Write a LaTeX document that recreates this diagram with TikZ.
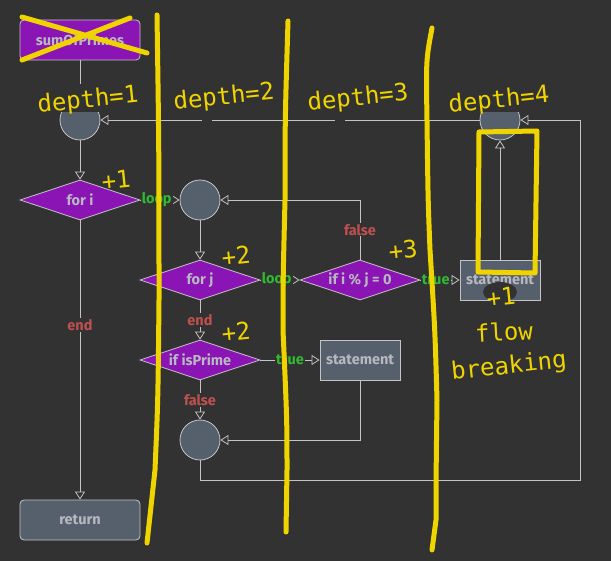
\documentclass[tikz,border=0pt]{standalone}
\usepackage{fontspec}
\setsansfont{Fira Sans}
\newfontfamily\hand{DejaVu Sans Mono}
\usetikzlibrary{shapes.geometric,arrows.meta}
\definecolor{bg}{HTML}{323232}
\definecolor{purp}{HTML}{8A14B4}
\definecolor{ngray}{HTML}{56606C}
\definecolor{edgec}{HTML}{C4C4C4}
\definecolor{txt}{HTML}{B8B8C0}
\definecolor{lgreen}{HTML}{30BA30}
\definecolor{lred}{HTML}{C05050}
\definecolor{hy}{HTML}{F0D400}
\tikzset{
  base/.style={draw=edgec, line width=0.8pt, text=txt, font=\sffamily\bfseries\fontsize{14.5}{16}\selectfont, inner sep=0pt},
  startbox/.style={base, rectangle, rounded corners=4pt, fill=purp, minimum width=120pt, minimum height=40pt},
  retbox/.style={base, rectangle, rounded corners=4pt, fill=ngray, minimum width=120pt, minimum height=40pt},
  stbox/.style={base, rectangle, fill=ngray, minimum width=80pt, minimum height=40pt},
  dia/.style={base, diamond, fill=purp, minimum width=120pt, minimum height=40pt},
  merge/.style={base, circle, fill=ngray, minimum size=40pt},
  arr/.style={draw=edgec, line width=0.8pt, -{Triangle[open, length=8pt, width=10pt]}},
  lbl/.style={fill=bg, inner sep=1pt, font=\sffamily\bfseries\fontsize{14.5}{16}\selectfont},
  lg/.style={lbl, text=lgreen},
  lr/.style={lbl, text=lred},
  hl/.style={draw=hy, line width=5pt, line cap=round, line join=round},
  htext/.style={text=hy, font=\hand\fontsize{24}{26}\selectfont, inner sep=0pt, rotate=6},
}
\begin{document}
\begin{tikzpicture}[x=1pt, y=-1pt]
\useasboundingbox[fill=bg] (0,0) rectangle (611,561);
% nodes
\node[startbox] (sum) at (80,40) {sumOfPrimes};
\node[merge] (c1) at (80,120) {};
\node[dia] (fori) at (80,200) {\makebox[0pt]{for i}};
\node[merge] (c2) at (200,200) {};
\node[dia] (forj) at (200,280) {\makebox[0pt]{for j}};
\node[dia] (ifij) at (360,280) {\makebox[0pt]{if i \% j = 0}};
\node[stbox] (st1) at (500,280) {statement};
\node[merge] (c4) at (500,120) {};
\node[dia] (isp) at (200,360) {\makebox[0pt]{if isPrime}};
\node[stbox] (st2) at (360,360) {statement};
\node[merge] (c3) at (200,440) {};
\node[retbox] (ret) at (80,520) {return};
\coordinate (k2) at (580,480);
% connectors
\draw[arr] (sum) -- (c1);
\draw[arr] (c1) -- (fori);
\draw[arr] (fori.east) -- node[lg, pos=0, anchor=west] {loop} (c2.west);
\draw[arr] (ifij.north) |- node[lr, pos=0.25] {false} (c2.east);
\draw[arr] (c2) -- (forj);
\draw[arr] (forj.east) -- node[lg, pos=0, anchor=west] {loop} (ifij.west);
\draw[arr] (ifij.east) -- node[lg, pos=0, anchor=west] {true} (st1.west);
\draw[arr] (st1) -- (c4);
\draw[arr] (forj) -- node[lr] {end} (isp);
\draw[arr] (isp.east) -- node[lg] {true} (st2.west);
\draw[arr] (isp) -- node[lr] {false} (c3);
\draw[arr] (st2.south) |- (c3.east);
\draw[arr] (c3.south) |- (k2) |- (c4.east);
\draw[arr] (c4.west) -- (c1.east);
\draw[arr] (fori.south) -- node[lr, pos=0.375] {end} (ret.north);
% annotation covers
\fill[bg] (58,84) rectangle (102,112);
\fill[bg] (476,84) rectangle (524,112);
\fill[bg] (202,117) rectangle (212,123);
\fill[bg] (335,117) rectangle (345,123);
\fill[bg] (500,292) ellipse (17pt and 10pt);
% yellow strokes
\draw[hl] (22,17) -- (147,53);
\draw[hl] (22,60) -- (130,18);
\draw[hl] (157,15) .. controls (159,150) .. (159,300) .. controls (158,400) .. (155,470) -- (147,543);
\draw[hl] (288,21) .. controls (285,120) .. (285,200) .. controls (283,280) .. (283,330) .. controls (287,420) .. (287,470) -- (286,532);
\draw[hl] (432,28) .. controls (426,60) .. (427,120) .. controls (428,200) .. (430,250) .. controls (435,330) .. (437,400) .. controls (436,480) .. (436,520) -- (432,550);
\draw[hl] (479,132) -- (537,131) -- (535,273) -- (478,272) -- cycle;
% yellow text
\node[htext] (d1) at (88,101) {depth=1};
\node[htext] (d2) at (224,98) {depth=2};
\node[htext] (d3) at (358,99) {depth=3};
\node[htext] (d4) at (499,101) {depth=4};
\node[htext] (p1) at (116,180) {+1};
\node[htext] (p2) at (236,256) {+2};
\node[htext] (p3) at (236,332) {+2};
\node[htext] (p4) at (403,250) {+3};
\node[htext] (p5) at (501,297) {+1};
\node[htext, rotate=-3] (fl) at (504,332) {flow};
\node[htext] (br) at (509,367) {breaking};
\end{tikzpicture}
\end{document}
